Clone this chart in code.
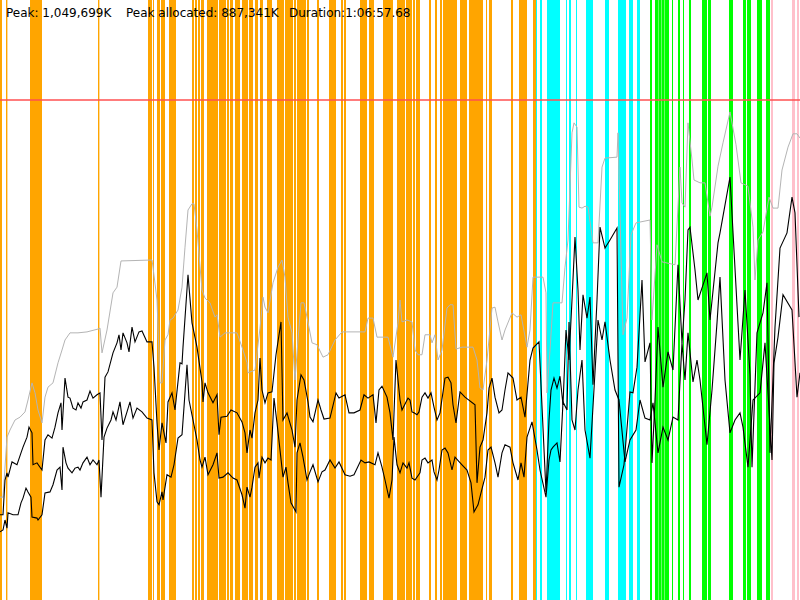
<!DOCTYPE html>
<html>
<head>
<meta charset="utf-8">
<script src="https://cdn.jsdelivr.net/npm/d3@7"></script>
<style>
  html, body { margin: 0; padding: 0; background: #fff; }
  svg { display: block; }
</style>
</head>
<body>
<div id="wrapper"></div>
<script>
// header texts
const summaryTexts = ["Peak: 1,049,699K", "Peak allocated: 887,341K", "Duration:1:06:57.68"];

// time in seconds, memory in MB
const timeSpanSec = 4000;
const maxMB = 1260;
const limitMB = 1050;

// GC event spans [start, end] in seconds
const orangeSpans = [
  [0, 10], [30, 37], [150, 165], [165, 210], [490, 497], [740, 760], [765, 770],
  [785, 800], [805, 825], [845, 880], [960, 970], [975, 985], [990, 1000],
  [1005, 1020], [1035, 1090], [1095, 1130], [1135, 1145], [1150, 1165],
  [1175, 1200], [1210, 1240], [1245, 1265], [1275, 1290], [1300, 1315],
  [1335, 1360], [1385, 1420], [1425, 1465], [1470, 1480], [1485, 1530],
  [1535, 1545], [1585, 1595], [1645, 1680], [1705, 1715], [1720, 1730],
  [1800, 1835], [1845, 1870], [1915, 1965], [1985, 2025], [2030, 2060],
  [2065, 2075], [2080, 2100], [2145, 2155], [2175, 2185], [2200, 2210],
  [2215, 2285], [2300, 2335], [2345, 2415], [2430, 2435], [2445, 2460],
  [2555, 2565], [2595, 2635], [2665, 2680]
];
const cyanSpans = [
  [2680, 2685], [2700, 2710], [2735, 2800], [2830, 2835], [2845, 2855],
  [2880, 2885], [2930, 2965], [3025, 3045], [3090, 3130], [3145, 3165],
  [3185, 3200]
];
const greenSpans = [
  [3250, 3260], [3275, 3290], [3292, 3305], [3307, 3320], [3322, 3345],
  [3360, 3365], [3390, 3400], [3415, 3420], [3445, 3455], [3510, 3535],
  [3540, 3555], [3645, 3665], [3715, 3730], [3735, 3755], [3785, 3810],
  [3830, 3850]
];
const pinkSpans = [[3855, 3865], [3960, 3975], [3985, 3995]];

// [time, MB]
const heapMB = [
  [0,216],[15,216],[35,342],[50,357],[75,378],[100,384],[125,395],[140,420],[160,456],[175,435],
  [190,399],[210,372],[225,426],[240,447],[265,456],[290,498],[310,525],[325,546],[350,561],[390,561],
  [435,563],[490,569],[500,571],[510,519],[535,567],[565,645],[585,657],[605,712],[760,714],[765,699],
  [785,630],[800,456],[810,456],[825,546],[840,557],[850,588],[865,592],[890,609],[910,657],[925,741],
  [940,819],[960,832],[970,832],[985,777],[1010,651],[1025,634],[1050,624],[1075,594],[1085,599],[1100,552],
  [1125,561],[1185,561],[1215,525],[1235,498],[1240,477],[1275,483],[1300,571],[1315,636],[1325,615],[1340,603],
  [1365,666],[1390,699],[1410,714],[1425,678],[1440,594],[1460,561],[1475,462],[1490,546],[1505,624],[1520,624],
  [1535,594],[1560,540],[1585,536],[1615,510],[1640,515],[1675,546],[1710,563],[1825,563],[1840,592],[1865,592],
  [1885,552],[1940,552],[1965,510],[1990,582],[2000,630],[2010,584],[2035,588],[2060,584],[2075,525],[2090,515],
  [2110,515],[2125,557],[2150,557],[2160,540],[2175,557],[2190,504],[2210,525],[2235,613],[2250,620],[2265,620],
  [2280,527],[2310,531],[2365,531],[2385,504],[2400,445],[2415,441],[2435,504],[2460,613],[2475,615],[2490,584],
  [2510,546],[2525,567],[2560,603],[2585,594],[2605,599],[2635,531],[2650,567],[2665,678],[2715,678],[2730,645],
  [2735,435],[2750,525],[2765,624],[2810,624],[2825,699],[2840,756],[2860,981],[2870,1002],[2885,993],[2895,825],
  [2910,823],[2925,827],[2940,825],[2965,750],[2990,750],[3010,909],[3025,928],[3085,930],[3090,981],[3115,557],
  [3135,592],[3155,767],[3180,792],[3250,798],[3260,588],[3285,746],[3310,710],[3375,704],[3400,909],[3410,834],
  [3425,825],[3440,1002],[3460,924],[3470,882],[3500,876],[3525,876],[3550,806],[3560,825],[3590,911],[3615,960],
  [3650,1025],[3680,956],[3705,876],[3740,869],[3765,783],[3775,672],[3790,756],[3815,773],[3845,846],[3865,823],
  [3890,823],[3910,903],[3940,951],[3965,979],[3985,979],[4000,970]
];

const allocatedMB = [
  [0,179],[15,179],[25,252],[35,267],[40,258],[60,290],[85,284],[105,309],[115,321],[135,342],
  [145,363],[160,351],[165,284],[185,288],[210,273],[225,336],[240,347],[260,340],[275,363],[290,393],
  [305,414],[310,357],[325,466],[340,426],[350,424],[365,403],[380,399],[390,414],[405,403],[415,416],
  [435,420],[450,439],[465,424],[485,431],[500,435],[510,336],[525,468],[540,479],[565,519],[585,540],
  [595,557],[605,525],[615,561],[635,540],[645,521],[660,573],[675,542],[695,563],[710,565],[735,542],
  [760,542],[770,489],[785,372],[795,315],[810,372],[830,330],[840,416],[860,435],[875,399],[900,498],
  [910,496],[915,531],[940,683],[960,582],[985,531],[1010,458],[1015,416],[1025,456],[1040,435],[1065,414],
  [1085,431],[1095,347],[1105,384],[1135,386],[1155,399],[1185,393],[1210,374],[1225,351],[1235,309],[1250,357],
  [1260,340],[1275,393],[1290,420],[1300,508],[1310,441],[1325,414],[1340,435],[1360,437],[1380,515],[1405,584],
  [1415,378],[1435,393],[1460,357],[1475,321],[1485,420],[1505,473],[1520,462],[1540,416],[1550,384],[1565,374],
  [1590,420],[1605,399],[1620,380],[1650,382],[1680,435],[1695,424],[1725,431],[1745,393],[1770,393],[1800,399],
  [1820,431],[1840,424],[1865,431],[1880,372],[1895,441],[1910,449],[1935,426],[1950,393],[1965,336],[1980,504],
  [2000,420],[2010,399],[2040,424],[2050,420],[2060,395],[2070,393],[2085,389],[2095,395],[2110,426],[2125,435],
  [2140,424],[2155,435],[2170,405],[2185,378],[2200,393],[2225,466],[2240,468],[2255,456],[2265,410],[2280,372],
  [2300,437],[2325,426],[2375,410],[2385,246],[2400,321],[2415,336],[2435,393],[2445,445],[2460,466],[2475,426],
  [2495,393],[2510,399],[2525,441],[2540,477],[2565,466],[2585,420],[2605,426],[2625,384],[2650,504],[2665,529],
  [2695,542],[2730,227],[2745,378],[2755,441],[2770,466],[2785,445],[2800,470],[2815,410],[2830,567],[2845,504],
  [2860,630],[2875,762],[2890,651],[2900,525],[2915,641],[2935,592],[2950,636],[2965,452],[2985,630],[3000,783],
  [3025,739],[3050,756],[3085,781],[3095,237],[3120,284],[3150,437],[3165,435],[3185,489],[3210,672],[3225,500],
  [3250,540],[3260,288],[3275,420],[3290,573],[3315,447],[3340,521],[3365,483],[3390,704],[3410,540],[3425,630],
  [3440,777],[3450,783],[3475,693],[3490,630],[3535,687],[3550,588],[3590,750],[3600,771],[3650,888],[3700,504],
  [3725,651],[3750,473],[3760,279],[3785,561],[3815,603],[3835,666],[3850,309],[3875,573],[3900,739],[3935,771],
  [3960,846],[3975,813],[3995,594]
];

const usedMB = [
  [0,143],[15,147],[25,168],[35,151],[40,183],[65,179],[90,179],[105,204],[115,214],[130,235],
  [140,227],[155,216],[160,174],[185,172],[190,168],[210,179],[225,225],[250,227],[265,242],[285,273],
  [300,279],[310,231],[315,321],[330,288],[340,277],[360,267],[375,277],[390,279],[400,273],[415,288],
  [435,300],[450,284],[465,294],[485,284],[495,294],[505,216],[520,342],[535,361],[555,378],[565,395],
  [580,378],[600,416],[615,368],[635,395],[650,416],[665,382],[685,403],[710,395],[735,382],[760,378],
  [770,267],[785,206],[795,200],[810,227],[815,210],[835,263],[855,258],[870,284],[890,340],[910,347],
  [920,405],[935,494],[945,420],[965,378],[985,336],[1000,294],[1010,279],[1025,300],[1040,263],[1065,284],
  [1085,309],[1095,256],[1115,258],[1140,267],[1165,256],[1185,252],[1210,221],[1225,193],[1235,237],[1250,216],
  [1260,237],[1275,279],[1290,288],[1295,256],[1310,300],[1325,288],[1340,298],[1355,294],[1370,424],[1385,372],
  [1415,258],[1430,279],[1440,246],[1455,204],[1480,185],[1485,309],[1500,330],[1515,300],[1535,252],[1550,269],
  [1565,284],[1590,248],[1610,269],[1625,273],[1650,294],[1675,277],[1695,290],[1725,263],[1750,260],[1770,263],
  [1805,294],[1825,288],[1845,290],[1875,284],[1890,309],[1910,279],[1925,252],[1945,214],[1960,252],[1970,342],
  [1985,284],[2000,267],[2015,288],[2035,277],[2045,288],[2060,256],[2075,252],[2100,267],[2110,294],[2125,298],
  [2140,288],[2160,294],[2170,269],[2185,252],[2195,273],[2210,315],[2225,319],[2240,309],[2260,273],[2275,300],
  [2310,284],[2335,273],[2355,246],[2370,185],[2390,200],[2405,225],[2425,258],[2440,315],[2455,321],[2475,288],
  [2490,258],[2510,309],[2525,326],[2550,321],[2565,288],[2590,252],[2605,288],[2620,258],[2635,342],[2660,374],
  [2685,315],[2700,273],[2730,216],[2745,294],[2755,315],[2765,321],[2785,330],[2800,290],[2815,416],[2835,399],
  [2845,584],[2860,378],[2875,357],[2890,441],[2910,504],[2925,357],[2950,298],[2990,588],[3010,546],[3025,584],
  [3050,504],[3075,441],[3095,420],[3125,290],[3150,336],[3180,357],[3200,420],[3225,382],[3250,378],[3265,414],
  [3290,309],[3315,363],[3340,336],[3365,384],[3390,378],[3410,540],[3425,462],[3440,561],[3465,458],[3485,504],
  [3500,462],[3535,326],[3560,441],[3585,582],[3600,678],[3625,462],[3650,351],[3675,378],[3700,393],[3715,363],
  [3740,279],[3765,420],[3800,435],[3825,540],[3860,294],[3870,498],[3890,552],[3915,641],[3960,609],[3985,426],
  [4000,477]
];

let dimensions = {
  width: 800,
  height: 600
};

function drawChart() {
  const xScale = d3
    .scaleLinear()
    .domain([0, timeSpanSec])
    .range([0, dimensions.width]);

  const yScale = d3
    .scaleLinear()
    .domain([0, maxMB])
    .range([dimensions.height, 0]);

  const svg = d3
    .select("#wrapper")
    .append("svg")
    .attr("width", dimensions.width)
    .attr("height", dimensions.height);

  const spanGroups = [
    { spans: orangeSpans, color: "#ffa500" },
    { spans: cyanSpans, color: "#00ffff" },
    { spans: greenSpans, color: "#00ff00" },
    { spans: pinkSpans, color: "#ffc0cb" }
  ];

  svg
    .append("g")
    .selectAll("g")
    .data(spanGroups)
    .join("g")
    .attr("fill", d => d.color)
    .selectAll("rect")
    .data(d => d.spans)
    .join("rect")
    .attr("x", d => xScale(d[0]))
    .attr("width", d => xScale(d[1]) - xScale(d[0]))
    .attr("y", 0)
    .attr("height", dimensions.height);

  // heap limit
  svg
    .append("line")
    .attr("x1", 0)
    .attr("x2", dimensions.width)
    .attr("y1", yScale(limitMB))
    .attr("y2", yScale(limitMB))
    .attr("stroke", "#ff5050")
    .attr("stroke-width", 1.5);

  const lineGenerator = d3
    .line()
    .x(d => xScale(d[0]))
    .y(d => yScale(d[1]));

  svg
    .append("path")
    .datum(heapMB)
    .attr("d", lineGenerator)
    .attr("fill", "none")
    .attr("stroke", "#b4b4b4")
    .attr("stroke-width", 1);

  [allocatedMB, usedMB].forEach(series => {
    svg
      .append("path")
      .datum(series)
      .attr("d", lineGenerator)
      .attr("fill", "none")
      .attr("stroke", "#000")
      .attr("stroke-width", 1.1)
      .attr("stroke-linejoin", "miter");
  });

  const textX = [6, 126, 289];
  svg
    .append("g")
    .selectAll("text")
    .data(summaryTexts)
    .join("text")
    .attr("x", (d, i) => textX[i])
    .attr("y", 17)
    .attr("font-family", "DejaVu Sans, sans-serif")
    .attr("font-size", "12px")
    .attr("fill", "#000")
    .text(d => d);
}

drawChart();
</script>
</body>
</html>
